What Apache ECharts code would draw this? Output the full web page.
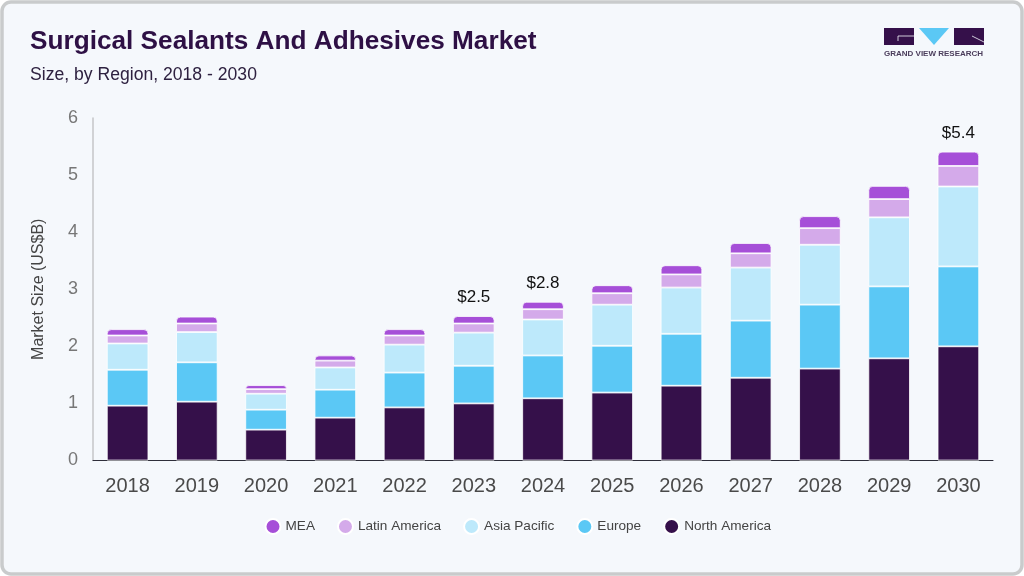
<!DOCTYPE html>
<html>
<head>
<meta charset="utf-8">
<title>Surgical Sealants And Adhesives Market</title>
<script src="https://cdn.jsdelivr.net/npm/echarts@6/dist/echarts.min.js"></script>
<style>
    html, body { margin: 0; padding: 0; background: #ffffff; }
    #main { width: 1024px; height: 576px; }
</style>
</head>
<body>
<div id="main"></div>
<script>
var years = ['2018','2019','2020','2021','2022','2023','2024','2025','2026','2027','2028','2029','2030'];
var northAmerica = [0.96,1.03,0.54,0.75,0.93,1.00,1.09,1.19,1.31,1.45,1.61,1.79,2.00];
var europe = [0.63,0.69,0.35,0.49,0.61,0.66,0.75,0.82,0.91,1.00,1.12,1.26,1.40];
var asiaPacific = [0.46,0.53,0.28,0.39,0.49,0.58,0.63,0.72,0.81,0.93,1.05,1.21,1.40];
var latinAmerica = [0.14,0.15,0.08,0.12,0.16,0.16,0.18,0.20,0.23,0.25,0.29,0.32,0.36];
var mea = [0.11,0.12,0.07,0.09,0.11,0.13,0.13,0.14,0.16,0.18,0.21,0.23,0.25];
var totalLabels = ['','','','','','$2.5','$2.8','','','','','','$5.4'];
var yTicks = [0, 6, 1];

var myChart = echarts.init(document.getElementById('main'));
var fontName = '"Liberation Sans", Arial, sans-serif';

function barSeries(name, values, color) {
    return {
        name: name,
        type: 'bar',
        stack: 'region',
        barWidth: '60%',
        data: values,
        itemStyle: { color: color, borderColor: '#ffffff', borderWidth: 0.8 }
    };
}

var series = [
    barSeries('North America', northAmerica, '#35104a'),
    barSeries('Europe', europe, '#5bc8f5'),
    barSeries('Asia Pacific', asiaPacific, '#bde9fb'),
    barSeries('Latin America', latinAmerica, '#d4aaea'),
    barSeries('MEA', mea, '#a64fd8')
];
// rounded cap and total labels sit on the top segment
series[4].itemStyle.borderRadius = [4, 4, 0, 0];
series[4].label = {
    show: true,
    position: 'top',
    distance: 10,
    color: '#111111',
    fontSize: 17,
    fontFamily: fontName,
    formatter: function (p) { return totalLabels[p.dataIndex]; }
};

var option = {
    backgroundColor: '#ffffff',
    textStyle: { fontFamily: fontName },
    animation: false,
    title: {
        text: 'Surgical Sealants And Adhesives Market',
        subtext: 'Size, by Region, 2018 - 2030',
        left: 25,
        top: 24,
        itemGap: 11,
        textStyle: { fontFamily: fontName, fontSize: 26.2, fontWeight: 'bold', color: '#2e1045' },
        subtextStyle: { fontFamily: fontName, fontSize: 17.6, color: '#2e2140' }
    },
    legend: {
        data: ['MEA', 'Latin America', 'Asia Pacific', 'Europe', 'North America'],
        left: 259.5,
        top: 513,
        icon: 'circle',
        itemWidth: 15,
        itemHeight: 15,
        itemGap: 22,
        textStyle: { fontFamily: fontName, fontSize: 13.6, color: '#444444' }
    },
    grid: { left: 93, right: 31, top: 118, bottom: 115.5 },
    xAxis: {
        type: 'category',
        data: years,
        axisTick: { show: false },
        axisLine: { lineStyle: { color: '#2e2e3a', width: 1 } },
        axisLabel: { color: '#4a4a4a', fontSize: 20, margin: 16 }
    },
    yAxis: {
        type: 'value',
        min: yTicks[0],
        max: yTicks[1],
        interval: yTicks[2],
        name: 'Market Size (US$B)',
        nameLocation: 'middle',
        nameGap: 46,
        nameTextStyle: { color: '#444444', fontSize: 16 },
        splitLine: { show: false },
        axisTick: { show: false },
        axisLine: { show: true, lineStyle: { color: '#c4c6c8', width: 1.5 } },
        axisLabel: { color: '#777777', fontSize: 18, margin: 15 }
    },
    series: series,
    graphic: [
        // card
        { type: 'rect', silent: true, z: -1, shape: { x: 2, y: 2, width: 1020, height: 572, r: 9 },
          style: { fill: '#f5f8fc', stroke: '#c9cbcc', lineWidth: 3.5 } },
        // logo
        { type: 'rect', shape: { x: 884, y: 28, width: 30, height: 17 }, style: { fill: '#35104a' } },
        { type: 'polygon', shape: { points: [[919, 28], [949, 28], [934, 45]] }, style: { fill: '#5bc8f5' } },
        { type: 'rect', shape: { x: 954, y: 28, width: 30, height: 17 }, style: { fill: '#35104a' } },
        { type: 'polyline', shape: { points: [[898, 41], [898, 36], [914, 36]] }, style: { fill: 'none', stroke: '#f5f8fc', lineWidth: 0.8 } },
        { type: 'polyline', shape: { points: [[972, 36], [984, 42]] }, style: { fill: 'none', stroke: '#f5f8fc', lineWidth: 0.8 } },
        { type: 'text', x: 884, y: 50, style: { text: 'GRAND VIEW RESEARCH', fill: '#4b3d5c', fontFamily: fontName, fontSize: 8, fontWeight: 'bold' } }
    ]
};

myChart.setOption(option);
</script>
</body>
</html>
